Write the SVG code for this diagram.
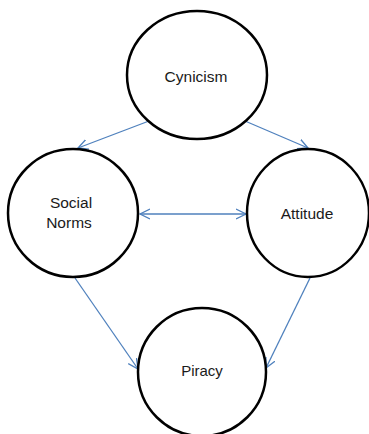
<svg xmlns="http://www.w3.org/2000/svg" width="369" height="434" viewBox="0 0 369 434">
<style>
.node{fill:#ffffff;stroke:#000000;stroke-width:2.5}
.lbl{font-family:"Liberation Sans",Arial,sans-serif;font-size:15.5px;fill:#1a1a1a;text-anchor:middle}
.edge{stroke:#4F81BD;stroke-width:1.3;fill:none}
</style>
<defs>
<marker id="arr" markerWidth="12" markerHeight="12" refX="10" refY="5" orient="auto-start-reverse" markerUnits="userSpaceOnUse" viewBox="0 0 12 10">
<path d="M0,0 L10,5 L0,10" fill="none" stroke="#4F81BD" stroke-width="1.3"/>
</marker>
</defs>
<rect width="369" height="434" fill="#ffffff"/>
<g id="connectors">
<line class="edge" x1="149" y1="121" x2="78" y2="148" marker-end="url(#arr)"/>
<line class="edge" x1="245" y1="121" x2="308" y2="148" marker-end="url(#arr)"/>
<line class="edge" x1="140" y1="214" x2="246" y2="214" marker-start="url(#arr)" marker-end="url(#arr)"/>
<line class="edge" x1="75" y1="278" x2="138" y2="369" marker-end="url(#arr)"/>
<line class="edge" x1="310" y1="278" x2="266" y2="368" marker-end="url(#arr)"/>
</g>
<g id="cynicism">
<ellipse class="node" cx="197" cy="75" rx="70" ry="64"/>
<text class="lbl" x="196" y="82">Cynicism</text>
</g>
<g id="social-norms">
<ellipse class="node" cx="73" cy="213" rx="65" ry="64"/>
<text class="lbl" x="71" y="208">Social</text>
<text class="lbl" x="69" y="228">Norms</text>
</g>
<g id="attitude">
<ellipse class="node" cx="308" cy="213" rx="61" ry="64"/>
<text class="lbl" x="307" y="219">Attitude</text>
</g>
<g id="piracy">
<ellipse class="node" cx="202" cy="372" rx="64" ry="64"/>
<text class="lbl" x="202" y="376" style="font-size:15px">Piracy</text>
</g>
</svg>
